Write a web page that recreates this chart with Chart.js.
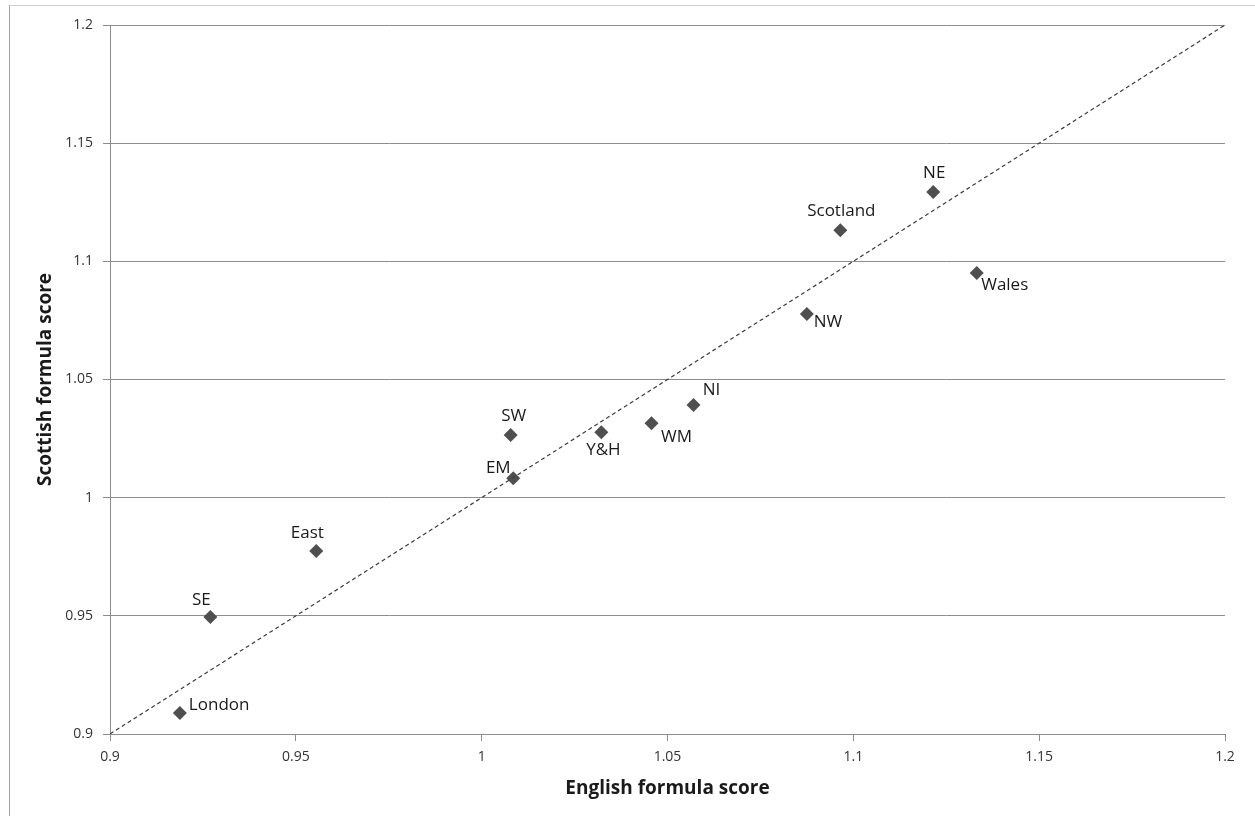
<!DOCTYPE html>
<html>
<head>
<meta charset="utf-8">
<script src="https://cdn.jsdelivr.net/npm/chart.js@4"></script>
<style>
	html, body { margin: 0; padding: 0; background: #fff; }
	#wrap { position: relative; width: 1255px; height: 816px; overflow: hidden; }
	#frame { position: absolute; left: 9px; top: 5px; width: 1300px; height: 900px;
		border-left: 1px solid #a0a0a0; border-top: 1px solid #cfcfcf; }
	canvas { position: absolute; left: 0; top: 0; }
</style>
</head>
<body>
<div id="wrap">
	<div id="frame"></div>
	<canvas id="chart" width="1255" height="816"></canvas>
</div>
<script>
	// regions and their formula scores
	var regions = ['London', 'SE', 'East', 'SW', 'EM', 'Y&H', 'WM', 'NI', 'NW', 'Scotland', 'NE', 'Wales'];
	var englishScore = [0.9188, 0.9270, 0.9555, 1.0078, 1.0085, 1.0322, 1.0457, 1.0570, 1.0875, 1.0965, 1.1215, 1.1332];
	var scottishScore = [0.9089, 0.9495, 0.9774, 1.0265, 1.0082, 1.0277, 1.0315, 1.0392, 1.0777, 1.1132, 1.1293, 1.0951];
	var equalLine = [0.9, 1.2];
	var tickValues = [0.9, 0.95, 1, 1.05, 1.1, 1.15, 1.2];

	// where each label sits relative to its marker
	var labelOffsets = [[9, -8, 'left'], [-9, -17, 'center'], [-9, -18, 'center'], [3, -19, 'center'],
		[-15, -10, 'center'], [2, 18, 'center'], [25, 14, 'center'], [18, -15, 'center'],
		[21, 8, 'center'], [1, -19, 'center'], [1, -19, 'center'], [28, 12, 'center']];

	var points = regions.map(function(name, i) {
		return {x: englishScore[i], y: scottishScore[i]};
	});

	var pointLabels = {
		id: 'pointLabels',
		afterDatasetsDraw: function(chart) {
			var ctx = chart.ctx;
			var meta = chart.getDatasetMeta(1);
			ctx.save();
			ctx.font = '17px "Open Sans"';
			ctx.fillStyle = '#1a1a1a';
			ctx.textBaseline = 'middle';
			meta.data.forEach(function(el, i) {
				var off = labelOffsets[i];
				ctx.textAlign = off[2];
				ctx.fillText(regions[i], el.x + off[0], el.y + off[1]);
			});
			ctx.restore();
		}
	};

	var tickFont = {family: 'Open Sans', size: 14};

	var chart = new Chart(document.getElementById('chart').getContext('2d'), {
		type: 'scatter',
		data: {
			datasets: [{
				data: equalLine.map(function(v) { return {x: v, y: v}; }),
				showLine: true,
				borderColor: '#3c3c3c',
				borderWidth: 1.2,
				borderDash: [4, 3],
				pointRadius: 0
			}, {
				data: points,
				pointStyle: 'rectRot',
				pointRadius: 7,
				backgroundColor: '#4f4f4f',
				borderColor: '#4f4f4f',
				borderWidth: 0
			}]
		},
		options: {
			responsive: false,
			animation: false,
			layout: {
				padding: {left: 0, top: 25, right: 30, bottom: 0}
			},
			plugins: {
				legend: {display: false},
				tooltip: {enabled: false}
			},
			scales: {
				x: {
					type: 'linear',
					min: 0.9,
					max: 1.2,
					afterBuildTicks: function(scale) {
						scale.ticks = tickValues.map(function(v) { return {value: v}; });
					},
					afterFit: function(scale) { scale.height = 82; },
					ticks: {
						font: tickFont,
						color: '#333',
						padding: 8,
						maxRotation: 0,
						callback: function(v) { return String(+v.toFixed(2)); }
					},
					grid: {
						drawOnChartArea: false,
						drawTicks: true,
						tickLength: 7,
						color: '#8c8c8c'
					},
					border: {color: '#8c8c8c'},
					title: {
						display: true,
						text: 'English formula score',
						font: {family: 'Open Sans', size: 19, weight: 'bold'},
						color: '#1a1a1a',
						padding: {top: 4, bottom: 16}
					}
				},
				y: {
					type: 'linear',
					min: 0.9,
					max: 1.2,
					afterBuildTicks: function(scale) {
						scale.ticks = tickValues.map(function(v) { return {value: v}; });
					},
					afterFit: function(scale) { scale.width = 110; },
					ticks: {
						font: tickFont,
						color: '#333',
						padding: 10,
						callback: function(v) { return String(+v.toFixed(2)); }
					},
					grid: {
						drawTicks: true,
						tickLength: 7,
						color: '#8c8c8c'
					},
					border: {color: '#8c8c8c'},
					title: {
						display: true,
						text: 'Scottish formula score',
						font: {family: 'Open Sans', size: 19, weight: 'bold'},
						color: '#1a1a1a',
						padding: {top: 34}
					}
				}
			}
		},
		plugins: [pointLabels]
	});
</script>
</body>
</html>
